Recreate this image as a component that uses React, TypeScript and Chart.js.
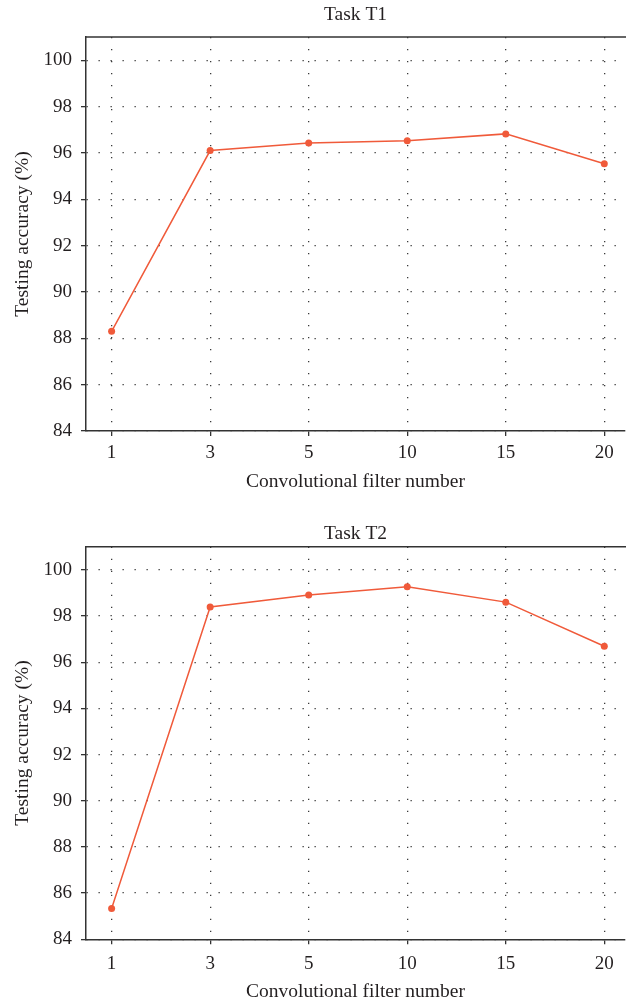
import React, { useEffect, useRef } from 'react';
import { Chart, registerables } from 'chart.js';

Chart.register(...registerables);

const xLabels = ['1', '3', '5', '10', '15', '20'];
const t1Values = [88.3, 96.1, 96.43, 96.52, 96.82, 95.53];
const t2Values = [85.33, 98.39, 98.91, 99.27, 98.6, 96.69];
const yTickValues = [84, 86, 88, 90, 92, 94, 96, 98, 100];
const chartTitles = ['Task T1', 'Task T2'];
const xAxisTitle = 'Convolutional filter number';
const yAxisTitle = 'Testing accuracy (%)';

const FONT = "'Liberation Serif', 'Times New Roman', serif";
const TEXT = '#231f20';
const AXIS = '#333333';
const LINE = '#f05a3a';
const GRID = '#3a3a3a';

type Layout = {
  height: number;
  areaTop: number;
  titleY: number;
  xAxisHeight: number;
  xLabelPad: number;
  xTitleBottom: number;
};

const layouts: Layout[] = [
  { height: 502, areaTop: 37, titleY: 15.3, xAxisHeight: 71, xLabelPad: 6, xTitleBottom: 8.6 },
  { height: 502, areaTop: 44.7, titleY: 32, xAxisHeight: 64.7, xLabelPad: 8.5, xTitleBottom: 0.6 },
];

const frame = {
  id: 'frame',
  afterDraw(chart: any, _args: any, opts: any) {
    const { ctx, chartArea } = chart;
    ctx.save();
    ctx.strokeStyle = AXIS;
    ctx.lineWidth = 1.5;
    ctx.beginPath();
    ctx.moveTo(chartArea.left, chartArea.top);
    ctx.lineTo(chartArea.right + 1, chartArea.top);
    ctx.stroke();
    if (opts && opts.text) {
      ctx.fillStyle = TEXT;
      ctx.font = `19.5px ${FONT}`;
      ctx.textAlign = 'center';
      ctx.textBaseline = 'middle';
      ctx.fillText(opts.text, (chartArea.left + chartArea.right) / 2, opts.y);
    }
    ctx.restore();
  },
};

function LineChart({ title, values, layout }: { title: string; values: number[]; layout: Layout }) {
  const ref = useRef<HTMLCanvasElement>(null);
  useEffect(() => {
    if (!ref.current) return;
    const gridOpts = {
      color: GRID,
      lineWidth: 1.3,
      tickLength: 5,
      tickColor: AXIS,
      tickWidth: 1.3,
    };
    const chart = new Chart(ref.current, {
      type: 'line',
      data: {
        datasets: [
          {
            data: values.map((v, i) => ({ x: i, y: v })),
            borderColor: LINE,
            backgroundColor: LINE,
            borderWidth: 1.5,
            pointRadius: 3.5,
            pointBorderWidth: 0,
            pointBackgroundColor: LINE,
            tension: 0,
          },
        ],
      },
      options: {
        responsive: false,
        animation: false,
        devicePixelRatio: 1,
        layout: { padding: { left: 0, right: 1, top: layout.areaTop, bottom: 0 } },
        plugins: {
          legend: { display: false },
          tooltip: { enabled: false },
          title: { display: false },
          frame: { text: title, y: layout.titleY },
        },
        scales: {
          x: {
            type: 'linear',
            min: -0.26,
            max: 5.21,
            afterBuildTicks: (s: any) => {
              s.ticks = xLabels.map((_, i) => ({ value: i }));
            },
            afterFit: (s: any) => {
              s.height = layout.xAxisHeight;
            },
            ticks: {
              color: TEXT,
              font: { family: FONT, size: 19 },
              padding: layout.xLabelPad,
              maxRotation: 0,
              autoSkip: false,
              callback: (v: any) => xLabels[v] ?? '',
            },
            grid: gridOpts,
            border: { display: true, color: AXIS, width: 1.5, dash: [1.3, 10.7] },
            title: {
              display: true,
              text: xAxisTitle,
              color: TEXT,
              font: { family: FONT, size: 19.5 },
              padding: { top: 0, bottom: layout.xTitleBottom },
            },
          },
          y: {
            type: 'linear',
            min: 84,
            max: 101,
            afterBuildTicks: (s: any) => {
              s.ticks = yTickValues.map((v) => ({ value: v }));
            },
            afterFit: (s: any) => {
              s.width = 86;
            },
            ticks: {
              color: TEXT,
              font: { family: FONT, size: 19 },
              padding: 9,
            },
            grid: gridOpts,
            border: { display: true, color: AXIS, width: 1.5, dash: [1.3, 10.7] },
            title: {
              display: true,
              text: yAxisTitle,
              color: TEXT,
              font: { family: FONT, size: 19.5 },
              padding: { top: 11, bottom: 0 },
            },
          },
        },
      },
      plugins: [frame],
    } as any);
    return () => chart.destroy();
  }, [title, values, layout]);
  return (
    <canvas
      ref={ref}
      width={629}
      height={layout.height}
      style={{ display: 'block', width: 629, height: layout.height }}
    />
  );
}

export default function App() {
  return (
    <div style={{ position: 'fixed', left: 0, top: 0, width: 629, height: 1004, background: '#fff' }}>
      <LineChart title={chartTitles[0]} values={t1Values} layout={layouts[0]} />
      <LineChart title={chartTitles[1]} values={t2Values} layout={layouts[1]} />
    </div>
  );
}
